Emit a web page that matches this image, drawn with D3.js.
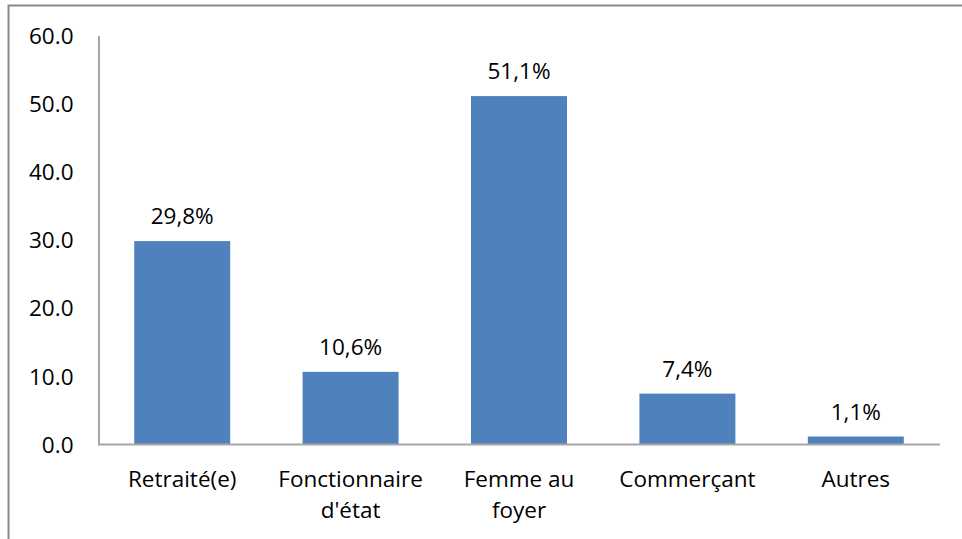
<!DOCTYPE html>
<html>
<head>
<meta charset="utf-8">
<script src="https://cdn.jsdelivr.net/npm/d3@7"></script>
<style>
  body { margin: 0; background: #fff; }
  text { font-family: "Open Sans", sans-serif; fill: #000; }
</style>
</head>
<body>
<svg id="chart" width="962" height="539"></svg>
<script>
var categories = [["Retraité(e)"], ["Fonctionnaire", "d'état"], ["Femme au", "foyer"], ["Commerçant"], ["Autres"]];
var values = [29.8, 10.6, 51.1, 7.4, 1.1];
var yTicks = [0, 10, 20, 30, 40, 50, 60];

var fontSize = '22.5px';
var svg = d3.select('#chart');

// outer frame
svg.append('path')
  .attr('d', 'M8.5,545 V5.5 H970')
  .style('fill', 'none')
  .style('stroke', '#898989')
  .style('stroke-width', 2);

var x = d3.scaleBand()
  .domain(d3.range(values.length))
  .range([98, 940])
  .paddingInner(0.43)
  .paddingOuter(0.215);

var y = d3.scaleLinear()
  .domain([0, 60])
  .range([444, 35.5]);

// y axis
var yAxis = svg.append('g')
  .attr('transform', 'translate(98.5,0)')
  .call(d3.axisLeft(y).tickValues(yTicks).tickSize(0).tickPadding(25).tickFormat(d3.format('.1f')));
yAxis.select('.domain').style('stroke', '#a6a6a6').style('stroke-width', 2);
yAxis.selectAll('text')
  .style('font-size', fontSize)
  .style('font-family', '"Open Sans", sans-serif')
  .attr('dy', '0.36em');

// bars
svg.selectAll('rect.bar')
  .data(values)
  .enter()
  .append('rect')
  .classed('bar', true)
  .attr('x', (d, i) => x(i))
  .attr('width', x.bandwidth())
  .attr('y', d => y(d))
  .attr('height', d => y(0) - y(d))
  .style('fill', '#4f81bd');

// x axis line
svg.append('line')
  .attr('x1', 98).attr('x2', 940)
  .attr('y1', 444.5).attr('y2', 444.5)
  .style('stroke', '#a6a6a6')
  .style('stroke-width', 2);

// value labels
svg.selectAll('text.val')
  .data(values)
  .enter()
  .append('text')
  .classed('val', true)
  .attr('x', (d, i) => x(i) + x.bandwidth() / 2)
  .attr('y', d => y(d) - 17)
  .attr('text-anchor', 'middle')
  .style('font-size', fontSize)
  .text(d => d.toFixed(1).replace('.', ',') + '%');

// category labels
var cats = svg.selectAll('text.cat')
  .data(categories)
  .enter()
  .append('text')
  .classed('cat', true)
  .attr('text-anchor', 'middle')
  .style('font-size', fontSize);

cats.selectAll('tspan')
  .data((d, i) => d.map(t => ({t: t, i: i})))
  .enter()
  .append('tspan')
  .attr('x', d => x(d.i) + x.bandwidth() / 2)
  .attr('y', (d, j) => 487 + j * 31)
  .text(d => d.t);
</script>
</body>
</html>
